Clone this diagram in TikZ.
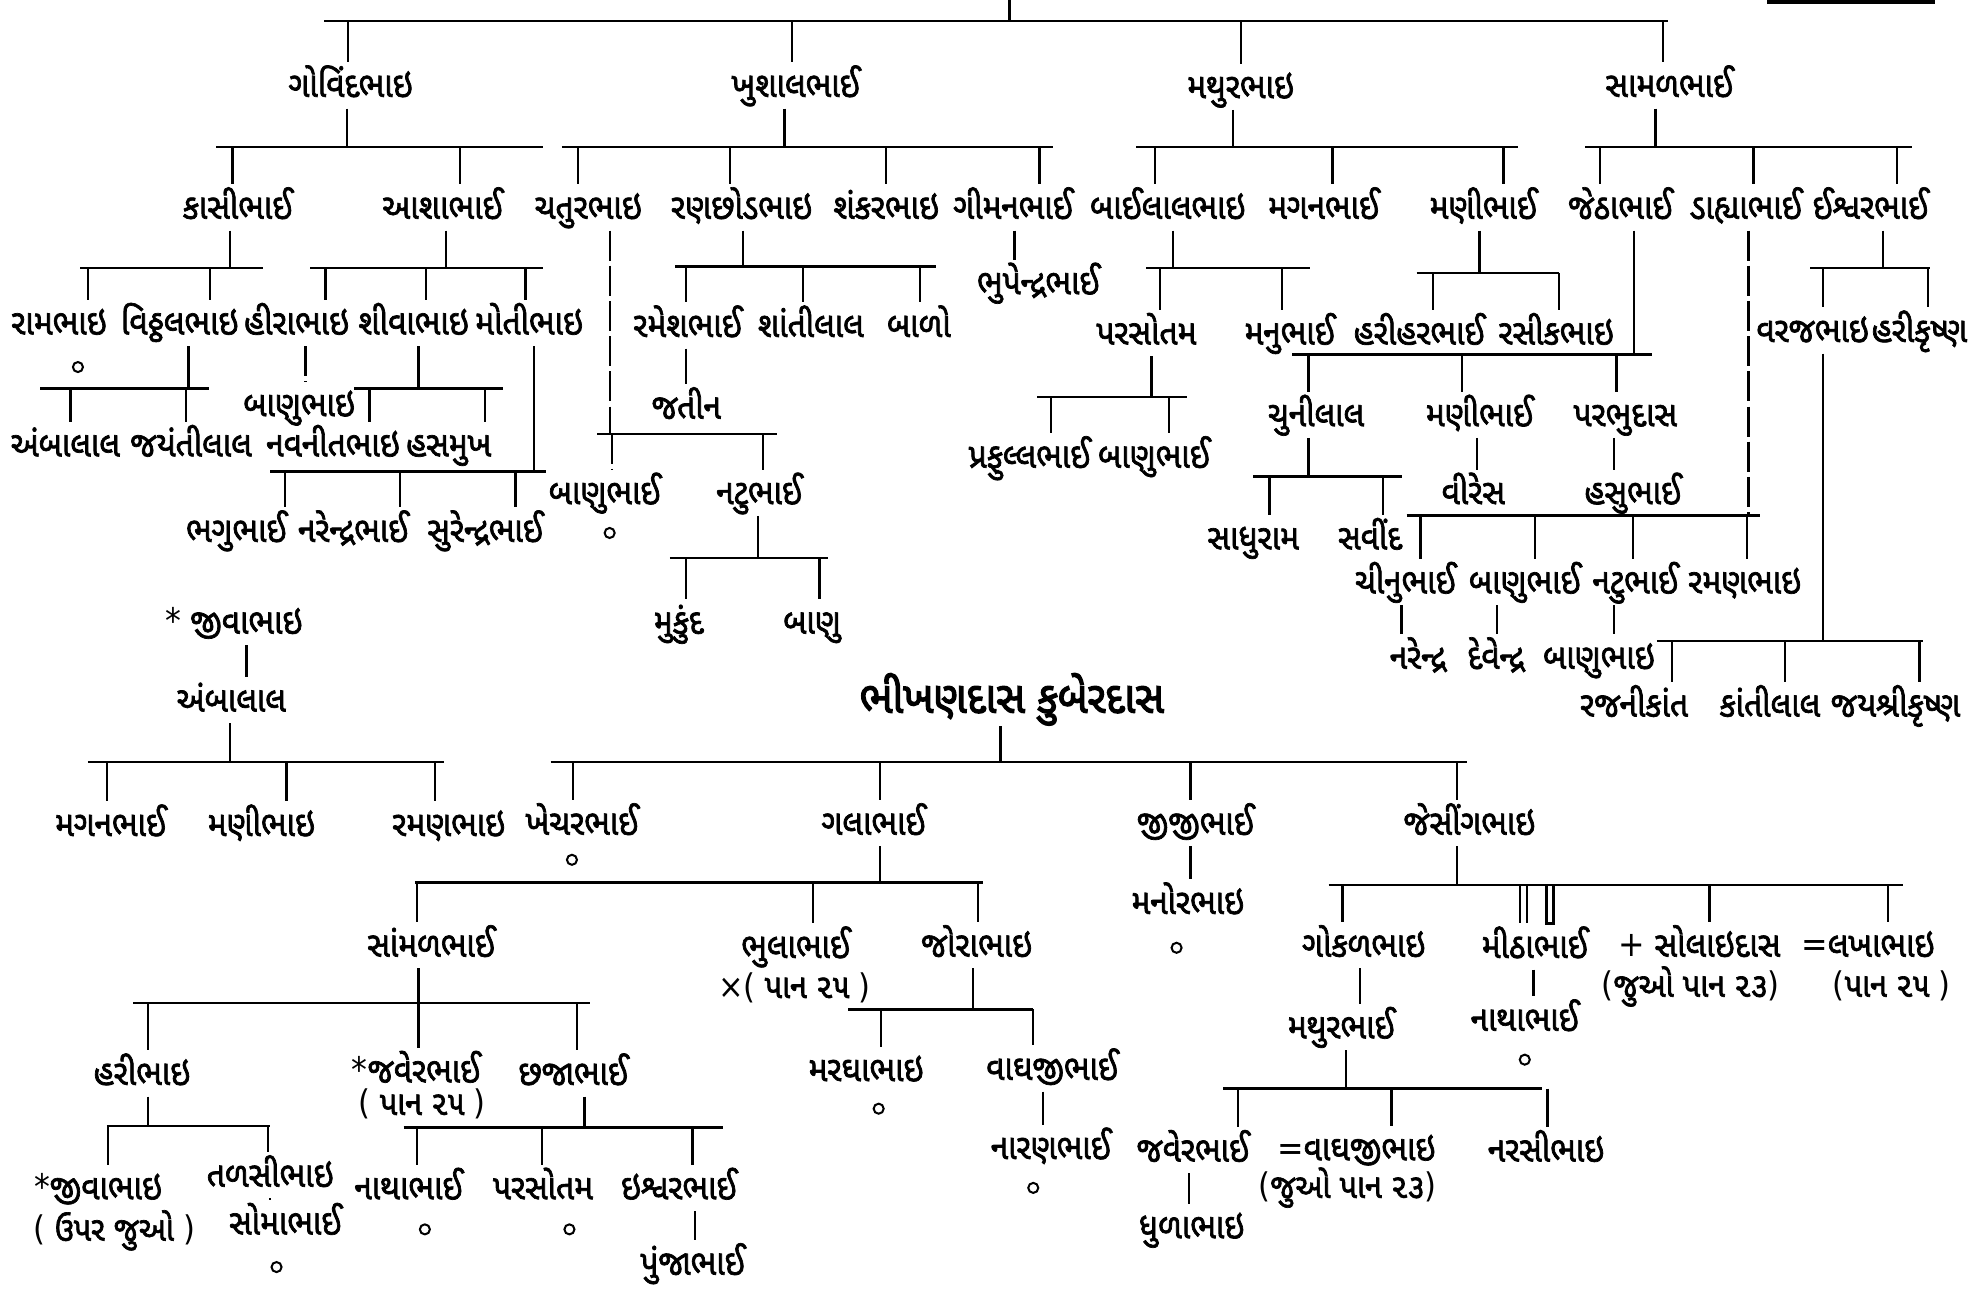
\documentclass[tikz,border=0pt]{standalone}
\usepackage{fontspec}
\newfontfamily\guj[Script=Gujarati,FakeBold=2,FakeStretch=0.9]{Noto Sans Gujarati UI}
\newfontfamily\gujT[Script=Gujarati,FakeBold=3,FakeStretch=0.92]{Noto Sans Gujarati UI}
\newfontfamily\sym[FakeStretch=0.9]{DejaVu Sans}
\newcommand\vcon[3]{\draw (#1,0 |- #2) -- (#1,0 |- #3);}
\newcommand\vbrk[3]{\draw[brk] (#1,0 |- #2) -- (#1,0 |- #3);}
\tikzset{
  nm/.style={inner sep=0pt, text height=13.3pt, text depth=4.2pt, font=\guj\fontsize{14}{16}\selectfont},
  nt/.style={inner sep=0pt, text height=9pt, text depth=3pt, font=\guj\fontsize{13.5}{15}\selectfont},
  ttl/.style={inner sep=0pt, text height=15pt, text depth=5pt, font=\gujT\fontsize{17.5}{20}\selectfont},
  circ/.style={circle, draw, inner sep=0pt, minimum size=4pt, line width=0.8pt},
  brk/.style={dash pattern=on 12pt off 2pt}
}
\begin{document}
\begin{tikzpicture}[x=0.5pt, y=-0.5pt, line width=0.9pt]
\fill[white] (0,0) rectangle (1568,1026);
\useasboundingbox (0,0) rectangle (1568,1026);

% ---------- top ----------
\coordinate (t0) at (803,0);
\draw (258,17) coordinate (tbar) -- (1327,17);
\vcon{803}{t0}{tbar}
\draw[line width=1.6pt] (1406,1.5) -- (1539,1.5);

\node[nm] (govind) at (279,68) {ગોવિંદભાઇ};
\node[nm] (khushal) at (633,68) {ખુશાલભાઈ};
\node[nm] (mathur) at (987,69) {મથુરભાઇ};
\node[nm] (samal) at (1328,68) {સામળભાઈ};
\vcon{277}{tbar}{govind.north}
\vcon{630}{tbar}{khushal.north}
\vcon{987}{tbar}{mathur.north}
\vcon{1323}{tbar}{samal.north}

% ---------- Govindbhai ----------
\draw (172,117) coordinate (gbar) -- (432,117);
\vcon{276}{govind.south}{gbar}
\node[nm] (kasi) at (189,165) {કાસીભાઈ};
\node[nm] (asha) at (352,165) {આશાભાઈ};
\vcon{185}{gbar}{kasi.north}
\vcon{366}{gbar}{asha.north}

\draw (64,213) coordinate (kbar) -- (209,213);
\vcon{183}{kasi.south}{kbar}
\node[nm] (ram) at (47,257) {રામભાઇ};
\node[nm] (vith) at (143,257) {વિઠ્ઠલભાઇ};
\vcon{70}{kbar}{ram.north}
\vcon{167}{kbar}{vith.north}
\node[circ] (ram0) at (62,292) {};

\draw (247,213) coordinate (abar) -- (432,213);
\vcon{355}{asha.south}{abar}
\node[nm] (hira) at (236,257) {હીરાભાઇ};
\node[nm] (shiva) at (329,257) {શીવાભાઇ};
\node[nm] (moti) at (421,257) {મોતીભાઇ};
\vcon{259}{abar}{hira.north}
\vcon{339}{abar}{shiva.north}
\vcon{418}{abar}{moti.north}

\draw (32,309) coordinate (vbar) -- (166,309);
\vcon{150}{vith.south}{vbar}
\node[nm] (amba) at (52,354) {અંબાલાલ};
\node[nm] (jayanti) at (152,354) {જયંતીલાલ};
\vcon{56}{vbar}{amba.north}
\vcon{148}{vbar}{jayanti.north}

\node[nm] (banuH) at (238,322) {બાણુભાઇ};
\vbrk{243}{hira.south}{banuH.north}

\draw (282,309) coordinate (sbar) -- (400,309);
\vcon{333}{shiva.south}{sbar}
\node[nm] (navnit) at (265,354) {નવનીતભાઇ};
\node[nm] (hasmukh) at (357,354) {હસમુખ};
\vcon{294}{sbar}{navnit.north}
\vcon{386}{sbar}{hasmukh.north}

\draw (215,375) coordinate (mbar) -- (434,375);
\vcon{425}{moti.south}{mbar}
\node[nm] (bhagu) at (188,422) {ભગુભાઈ};
\node[nm] (narendra) at (281,422) {નરેન્દ્રભાઈ};
\node[nm] (surendra) at (386,422) {સુરેન્દ્રભાઈ};
\vcon{227}{mbar}{bhagu.north}
\vcon{318}{mbar}{narendra.north}
\vcon{410}{mbar}{surendra.north}

% ---------- Khushalbhai ----------
\draw (447,117) coordinate (khbar) -- (838,117);
\vcon{624}{khushal.south}{khbar}
\node[nm] (chatur) at (468,165) {ચતુરભાઇ};
\node[nm] (ranchhod) at (590,165) {રણછોડભાઇ};
\node[nm] (shankar) at (705,165) {શંકરભાઇ};
\node[nm] (chiman) at (806,165) {ગીમનભાઈ};
\vcon{460}{khbar}{chatur.north}
\vcon{581}{khbar}{ranchhod.north}
\vcon{705}{khbar}{shankar.north}
\vcon{827}{khbar}{chiman.north}

\draw (475,345) coordinate (cbar) -- (618,345);
\vbrk{485}{chatur.south}{cbar}
\node[nm] (banuC) at (481,392) {બાણુભાઈ};
\node[nm] (natuC) at (604,392) {નટુભાઈ};
\vbrk{487}{cbar}{banuC.north}
\vcon{607}{cbar}{natuC.north}
\node[circ] (banuC0) at (485,424) {};

\draw (533,444) coordinate (nbar) -- (659,444);
\vcon{603}{natuC.south}{nbar}
\node[nm] (mukund) at (540,495) {મુકુંદ};
\node[nm] (banuN) at (646,495) {બાણુ};
\vcon{546}{nbar}{mukund.north}
\vcon{652}{nbar}{banuN.north}

\draw (537,212) coordinate (rbar) -- (745,212);
\vcon{591}{ranchhod.south}{rbar}
\node[nm] (ramesh) at (547,259) {રમેશભાઈ};
\node[nm] (shanti) at (645,259) {શાંતીલાલ};
\node[nm] (balo) at (731,259) {બાળો};
\vcon{546}{rbar}{ramesh.north}
\vcon{639}{rbar}{shanti.north}
\vcon{732}{rbar}{balo.north}
\node[nm] (jatin) at (546,324) {જતીન};
\vcon{546}{ramesh.south}{jatin.north}

\node[nm] (bhupendra) at (826,225) {ભુપેન્દ્રભાઈ};
\vcon{807}{chiman.south}{bhupendra.north}

% ---------- Mathurbhai ----------
\draw (904,117) coordinate (mtbar) -- (1208,117);
\vcon{981}{mathur.south}{mtbar}
\node[nm] (bailal) at (929,165) {બાઈલાલભાઇ};
\node[nm] (magan) at (1053,165) {મગનભાઈ};
\node[nm] (maniM) at (1180,165) {મણીભાઈ};
\vcon{919}{mtbar}{bailal.north}
\vcon{1060}{mtbar}{magan.north}
\vcon{1196}{mtbar}{maniM.north}

\draw (912,213) coordinate (bbar) -- (1042,213);
\vcon{933}{bailal.south}{bbar}
\node[nm] (parsotam) at (912,265) {પરસોતમ};
\node[nm] (manu) at (1026,265) {મનુભાઈ};
\vcon{923}{bbar}{parsotam.north}
\vcon{1020}{bbar}{manu.north}
\draw (825,316) coordinate (pbar) -- (944,316);
\vcon{916}{parsotam.south}{pbar}
\node[nm] (praful) at (819,363) {પ્રફુલ્લભાઈ};
\node[nm] (banuP) at (918,363) {બાણુભાઈ};
\vcon{836}{pbar}{praful.north}
\vcon{930}{pbar}{banuP.north}

\draw (1127,217) coordinate (mmbar) -- (1240,217);
\vcon{1177}{maniM.south}{mmbar}
\node[nm] (harihar) at (1129,265) {હરીહરભાઈ};
\node[nm] (rasik) at (1238,265) {રસીકભાઇ};
\vcon{1140}{mmbar}{harihar.north}
\vcon{1240}{mmbar}{rasik.north}

% ---------- Samalbhai ----------
\draw (1261,117) coordinate (smbar) -- (1521,117);
\vcon{1317}{samal.south}{smbar}
\node[nm] (jetha) at (1289,165) {જેઠાભાઈ};
\node[nm] (dahya) at (1389,165) {ડાહ્યાભાઈ};
\node[nm] (ishvar) at (1488,165) {ઈશ્વરભાઈ};
\vcon{1273}{smbar}{jetha.north}
\vcon{1395}{smbar}{dahya.north}
\vcon{1509}{smbar}{ishvar.north}

\draw (1028,282) coordinate (jbar) -- (1314,282);
\vcon{1300}{jetha.south}{jbar}
\node[nm] (chuni) at (1047,330) {ચુનીલાલ};
\node[nm] (maniJ) at (1177,330) {મણીભાઈ};
\node[nm] (parbhu) at (1293,330) {પરભુદાસ};
\vcon{1041}{jbar}{chuni.north}
\vcon{1163}{jbar}{maniJ.north}
\vcon{1286}{jbar}{parbhu.north}

\draw (997,379) coordinate (chbar) -- (1115,379);
\vcon{1041}{chuni.south}{chbar}
\node[nm] (sadhu) at (997,428) {સાધુરામ};
\node[nm] (savind) at (1090,428) {સવીંદ};
\vcon{1010}{chbar}{sadhu.north}
\vcon{1100}{chbar}{savind.north}

\node[nm] (vires) at (1172,392) {વીરેસ};
\vcon{1175}{maniJ.south}{vires.north}
\node[nm] (hasu) at (1299,392) {હસુભાઈ};
\vcon{1284}{parbhu.south}{hasu.north}

\draw (1119,410) coordinate (dbar) -- (1400,410);
\vbrk{1391}{dahya.south}{dbar}
\node[nm] (chinu) at (1118,463) {ચીનુભાઈ};
\node[nm] (banuD) at (1213,463) {બાણુભાઈ};
\node[nm] (natuD) at (1301,463) {નટુભાઈ};
\node[nm] (ramanD) at (1388,463) {રમણભાઇ};
\vcon{1130}{dbar}{chinu.north}
\vcon{1221}{dbar}{banuD.north}
\vcon{1299}{dbar}{natuD.north}
\vcon{1390}{dbar}{ramanD.north}

\node[nm] (narendraC) at (1128,523) {નરેન્દ્ર};
\node[nm] (devendra) at (1190,523) {દેવેન્દ્ર};
\node[nm] (banuB) at (1272,523) {બાણુભાઇ};
\vcon{1115}{chinu.south}{narendraC.north}
\vcon{1191}{banuD.south}{devendra.north}
\vcon{1284}{natuD.south}{banuB.north}

\draw (1440,213) coordinate (ibar) -- (1535,213);
\vcon{1498}{ishvar.south}{ibar}
\node[nm] (varaj) at (1442,263) {વરજભાઇ};
\node[nm] (harikrishna) at (1527,263) {હરીકૃષ્ણ};
\vcon{1450}{ibar}{varaj.north}
\vcon{1534}{ibar}{harikrishna.north}
\draw (1318,510) coordinate (vjbar) -- (1530,510);
\vcon{1450}{varaj.south}{vjbar}
\node[nm] (rajni) at (1300,561) {રજનીકાંત};
\node[nm] (kanti) at (1408,561) {કાંતીલાલ};
\node[nm] (jayshri) at (1508,561) {જયશ્રીકૃષ્ણ};
\vcon{1330}{vjbar}{rajni.north}
\vcon{1420}{vjbar}{kanti.north}
\vcon{1527}{vjbar}{jayshri.north}

% ---------- lower left: Jivabhai ----------
\node[nm] (jiva) at (186,495) {{\sym *} જીવાભાઇ};
\node[nm] (ambaL) at (184,557) {અંબાલાલ};
\vcon{196}{jiva.south}{ambaL.north}
\draw (70,606) coordinate (albar) -- (353,606);
\vcon{183}{ambaL.south}{albar}
\node[nm] (maganL) at (88,656) {મગનભાઈ};
\node[nm] (maniL) at (208,656) {મણીભાઇ};
\node[nm] (ramanL) at (357,656) {રમણભાઇ};
\vcon{85}{albar}{maganL.north}
\vcon{228}{albar}{maniL.north}
\vcon{346}{albar}{ramanL.north}

% ---------- Bhikhandas Kuberdas ----------
\node[ttl] (bhikhan) at (805,557) {ભીખણદાસ કુબેરદાસ};
\draw (438,606) coordinate (bkbar) -- (1167,606);
\vcon{796}{bhikhan.south}{bkbar}
\node[nm] (khechar) at (463,655) {ખેચરભાઈ};
\node[nm] (gala) at (695,655) {ગલાભાઈ};
\node[nm] (jiji) at (951,655) {જીજીભાઈ};
\node[nm] (jesing) at (1169,655) {જેસીંગભાઇ};
\vcon{456}{bkbar}{khechar.north}
\vcon{700}{bkbar}{gala.north}
\vcon{947}{bkbar}{jiji.north}
\vcon{1159}{bkbar}{jesing.north}
\node[circ] (khechar0) at (455,684) {};

\draw (330,702) coordinate (gbar2) -- (782,702);
\vcon{700}{gala.south}{gbar2}
\node[nm] (samalG) at (343,752) {સાંમળભાઈ};
\node[nm] (bhula) at (633,753) {ભુલાભાઈ};
\node[nt] (bhulaN) at (632,788) {{\sym ×(} પાન ૨૫ {\sym )}};
\node[nm] (jora) at (777,752) {જોરાભાઇ};
\vcon{332}{gbar2}{samalG.north}
\vcon{647}{gbar2}{bhula.north}
\vcon{778}{gbar2}{jora.north}

\draw (675,803) coordinate (jrbar) -- (822,803);
\vcon{774}{jora.south}{jrbar}
\node[nm] (margha) at (689,851) {મરઘાભાઇ};
\node[nm] (vaghji) at (837,850) {વાઘજીભાઈ};
\vcon{701}{jrbar}{margha.north}
\vcon{822}{jrbar}{vaghji.north}
\node[circ] (margha0) at (699,882) {};
\node[nm] (naran) at (836,913) {નારણભાઈ};
\vcon{830}{vaghji.south}{naran.north}
\node[circ] (naran0) at (822,945) {};

\draw (106,798) coordinate (sgbar) -- (469,798);
\vcon{333}{samalG.south}{sgbar}
\node[nm] (hari) at (113,854) {હરીભાઇ};
\node[nm] (javer) at (331,852) {{\sym *}જવેરભાઈ};
\node[nt] (javerN) at (336,881) {{\sym (} પાન ૨૫ {\sym )}};
\node[nm] (chhaga) at (456,854) {છજાભાઈ};
\vcon{118}{sgbar}{hari.north}
\vcon{333}{sgbar}{javer.north}
\vcon{459}{sgbar}{chhaga.north}

\draw (85,896) coordinate (hbar) -- (215,896);
\vcon{118}{hari.south}{hbar}
\node[nm] (jivaH) at (78,945) {{\sym *}જીવાભાઇ};
\node[nt] (jivaN) at (91,981) {{\sym (} ઉપર જુઓ {\sym )}};
\node[nm] (talsi) at (215,935) {તળસીભાઇ};
\node[nm] (soma) at (227,973) {સોમાભાઈ};
\vcon{86}{hbar}{jivaH.north}
\vcon{213}{hbar}{talsi.north}
\vcon{215}{talsi.south}{soma.north}
\node[circ] (soma0) at (220,1008) {};

\draw (321,897) coordinate (chgbar) -- (575,897);
\vcon{465}{chhaga.south}{chgbar}
\node[nm] (natha) at (325,945) {નાથાભાઈ};
\node[nm] (parsotamL) at (432,945) {પરસોતમ};
\node[nm] (ishvarL) at (540,945) {ઇશ્વરભાઈ};
\vcon{332}{chgbar}{natha.north}
\vcon{431}{chgbar}{parsotamL.north}
\vcon{551}{chgbar}{ishvarL.north}
\node[circ] (natha0) at (338,978) {};
\node[circ] (parsotamL0) at (453,978) {};
\node[nm] (punja) at (551,1005) {પુંજાભાઈ};
\vcon{553}{ishvarL.south}{punja.north}

\node[nm] (manor) at (945,718) {મનોરભાઇ};
\vcon{947}{jiji.south}{manor.north}
\node[circ] (manor0) at (936,754) {};

\draw (1057,704) coordinate (jsbar) -- (1514,704);
\vcon{1159}{jesing.south}{jsbar}
\node[nm] (gokal) at (1085,752) {ગોકળભાઇ};
\node[nm] (mitha) at (1221,753) {મીઠાભાઈ};
\node[nm] (solai) at (1352,752) {{\sym +} સોલાઇદાસ};
\node[nt] (solaiN) at (1345,787) {{\sym (}જુઓ પાન ૨૩{\sym )}};
\node[nm] (lakha) at (1486,752) {{\sym =}લખાભાઇ};
\node[nt] (lakhaN) at (1505,787) {{\sym (}પાન ૨૫ {\sym )}};
\vcon{1068}{jsbar}{gokal.north}
\vcon{1209}{jsbar}{mitha.north}
\vcon{1215}{jsbar}{mitha.north}
\draw[line width=1.1pt] (1230,0 |- jsbar) -- (1230,0 |- mitha.north) -- (1236,0 |- mitha.north) -- (1236,0 |- jsbar);
\vcon{1360}{jsbar}{solai.north}
\vcon{1502}{jsbar}{lakha.north}

\node[nm] (nathaM) at (1213,811) {નાથાભાઈ};
\vcon{1220}{mitha.south}{nathaM.north}
\node[circ] (nathaM0) at (1213,843) {};

\node[nm] (mathurG) at (1067,817) {મથુરભાઈ};
\vcon{1082}{gokal.south}{mathurG.north}
\draw (973,866) coordinate (mgbar) -- (1227,866);
\vcon{1071}{mathurG.south}{mgbar}
\node[nm] (javerM) at (949,915) {જવેરભાઈ};
\node[nm] (vaghjiM) at (1079,914) {{\sym =}વાઘજીભાઇ};
\node[nt] (vaghjiN) at (1072,947) {{\sym (}જુઓ પાન ૨૩{\sym )}};
\node[nm] (narsi) at (1230,915) {નરસીભાઇ};
\vcon{985}{mgbar}{javerM.north}
\vcon{1107}{mgbar}{vaghjiM.north}
\vcon{1231}{mgbar}{narsi.north}
\node[nm] (dhula) at (948,976) {ધુળાભાઇ};
\vcon{946}{javerM.south}{dhula.north}
\end{tikzpicture}
\end{document}
